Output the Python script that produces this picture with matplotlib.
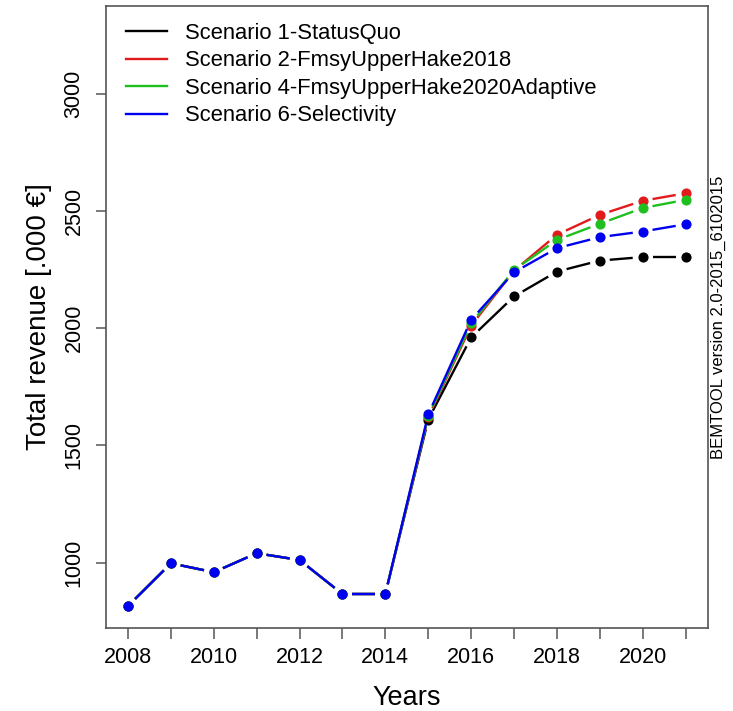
import matplotlib
matplotlib.use("Agg")
import numpy as np
import matplotlib.pyplot as plt
from matplotlib.lines import Line2D

plt.rcParams["font.family"] = ["Liberation Sans", "DejaVu Sans"]


# Total revenue per year, historic part shared by all scenarios

years = list(range(2008, 2022))

historic = [815, 997, 959, 1040, 1011, 866, 866]

scenario_1 = historic + [1610, 1960, 2135, 2241, 2288, 2303, 2303]
scenario_2 = historic + [1620, 2010, 2245, 2398, 2483, 2543, 2575]
scenario_4 = historic + [1625, 2020, 2248, 2376, 2445, 2512, 2547]
scenario_6 = historic + [1632, 2035, 2238, 2341, 2388, 2412, 2443]

labels = [
    "Scenario 1-StatusQuo",
    "Scenario 2-FmsyUpperHake2018",
    "Scenario 4-FmsyUpperHake2020Adaptive",
    "Scenario 6-Selectivity",
]
colors = ["black", "#E31A1C", "#1FBF1F", "#0000F0"]
series = [scenario_1, scenario_2, scenario_4, scenario_6]


fig = plt.figure(figsize=(7.33, 7.11), dpi=100)
ax = fig.add_axes([0.1442, 0.1167, 0.8221, 0.8753])

ax.set_xlim(2007.48, 2021.53)
ax.set_ylim(721, 3375)

gap = 10  # pixels left empty round each point, like R type="b"

to_px = ax.transData
to_data = ax.transData.inverted()

for values, color in zip(series, colors):
    pts = to_px.transform(np.column_stack([years, values]))
    for a, b in zip(pts[:-1], pts[1:]):
        d = b - a
        length = np.hypot(d[0], d[1])
        if length <= 2 * gap:
            continue
        u = d / length
        seg = to_data.transform(np.array([a + u * gap, b - u * gap]))
        ax.plot(seg[:, 0], seg[:, 1], color=color, lw=1.7,
                solid_capstyle="butt")
    ax.plot(years, values, "o", color=color, markersize=6.3, linestyle="none")

ax.set_xticks(range(2008, 2022))
ax.set_xticklabels([str(y) if y % 2 == 0 else "" for y in range(2008, 2022)])
ax.set_yticks([1000, 1500, 2000, 2500, 3000])

ax.tick_params(axis="x", length=8, width=1.1, pad=6, labelsize=15.5,
               color="#555555")
ax.tick_params(axis="y", length=7.2, width=1.1, pad=8, labelsize=15.5,
               color="#555555", labelrotation=90)
for lab in ax.get_yticklabels():
    lab.set_va("center")

for spine in ax.spines.values():
    spine.set_color("#555555")
    spine.set_linewidth(1.2)

ax.set_xlabel("Years", fontsize=19.5, va="center")
ax.xaxis.set_label_coords(0.5, -0.1125)
ax.set_ylabel("Total revenue [.000 €]", fontsize=20, va="center")
ax.yaxis.set_label_coords(-0.11, 0.5)

handles = [Line2D([], [], color=c, lw=1.7) for c in colors]
ax.legend(
    handles,
    labels,
    loc="upper left",
    bbox_to_anchor=(0.0337, 0.972),
    frameon=False,
    fontsize=15.8,
    handlelength=1.85,
    handletextpad=0.86,
    labelspacing=0.29,
    borderaxespad=0,
    borderpad=0,
)

fig.text(718 / 733, 1 - 317 / 711, "BEMTOOL version 2.0-2015_6102015",
         rotation=90, fontsize=12, ha="center", va="center")

fig.savefig("out.png", dpi=100)
